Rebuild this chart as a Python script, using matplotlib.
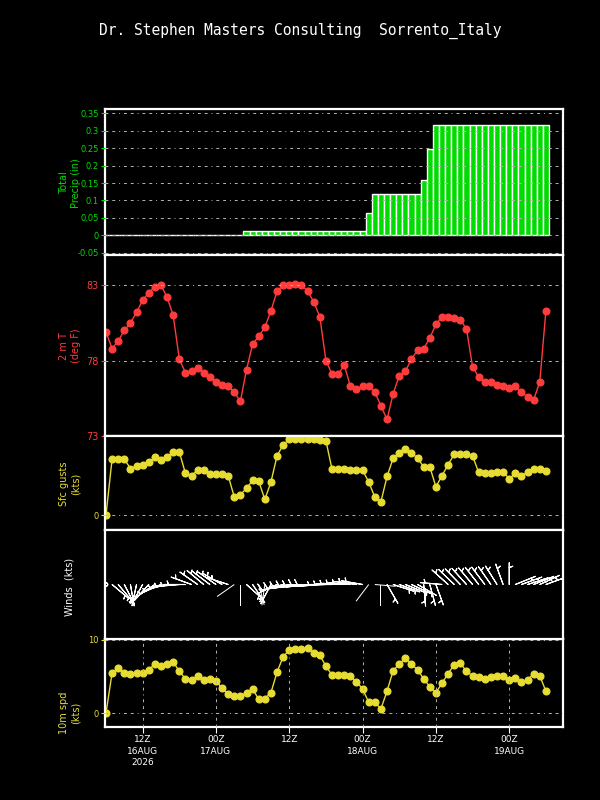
"""GrADS-style meteogram, Sorrento: precip, 2 m T, gusts, winds, 10 m speed."""
import numpy as np
import matplotlib
matplotlib.use("Agg")
import matplotlib.pyplot as plt

# hourly forecast steps, hours after 06Z 16AUG2026
hours = np.arange(73)

precip_in = [
    0, 0, 0, 0, 0, 0, 0, 0, 0, 0,
    0, 0, 0, 0, 0, 0, 0, 0, 0, 0,
    0, 0, 0, 0.012, 0.012, 0.012, 0.012, 0.012, 0.012, 0.012,
    0.012, 0.012, 0.012, 0.012, 0.012, 0.012, 0.012, 0.012, 0.012, 0.012,
    0.012, 0.012, 0.012, 0.064, 0.118, 0.118, 0.118, 0.118, 0.118, 0.118,
    0.118, 0.118, 0.159, 0.249, 0.316, 0.316, 0.316, 0.316, 0.316, 0.316,
    0.316, 0.316, 0.316, 0.316, 0.316, 0.316, 0.316, 0.316, 0.316, 0.316,
    0.316, 0.316, 0.316,
]
temp_f = [
    79.9, 78.8, 79.3, 80.0, 80.5, 81.2, 82.0, 82.5, 82.9, 83.0,
    82.2, 81.0, 78.1, 77.2, 77.3, 77.5, 77.2, 76.9, 76.6, 76.4,
    76.3, 75.9, 75.3, 77.4, 79.1, 79.6, 80.2, 81.3, 82.6, 83.0,
    83.0, 83.1, 83.0, 82.6, 81.9, 80.9, 78.0, 77.1, 77.1, 77.7,
    76.3, 76.1, 76.3, 76.3, 75.9, 75.0, 74.1, 75.8, 77.0, 77.3,
    78.1, 78.7, 78.8, 79.5, 80.4, 80.9, 80.9, 80.8, 80.7, 80.1,
    77.6, 76.9, 76.6, 76.6, 76.4, 76.3, 76.2, 76.3, 75.9, 75.6,
    75.4, 76.6, 81.3,
]
gust_kt = [
    0.0, 7.1, 7.1, 7.1, 5.9, 6.2, 6.4, 6.7, 7.3, 7.0,
    7.3, 8.0, 8.0, 5.3, 5.0, 5.7, 5.7, 5.2, 5.2, 5.2,
    5.0, 2.3, 2.6, 3.4, 4.4, 4.3, 2.0, 4.2, 7.5, 8.9,
    9.6, 9.6, 9.6, 9.6, 9.6, 9.5, 9.4, 5.8, 5.8, 5.8,
    5.7, 5.7, 5.7, 4.2, 2.3, 1.7, 4.9, 7.2, 7.9, 8.4,
    7.9, 7.2, 6.1, 6.1, 3.6, 5.0, 6.4, 7.7, 7.7, 7.7,
    7.5, 5.4, 5.3, 5.3, 5.5, 5.5, 4.6, 5.3, 5.0, 5.4,
    5.9, 5.9, 5.6,
]
wspd_kt = [
    0.0, 5.5, 6.1, 5.5, 5.3, 5.5, 5.5, 5.9, 6.7, 6.4,
    6.7, 7.0, 5.7, 4.7, 4.5, 5.0, 4.5, 4.7, 4.4, 3.4,
    2.6, 2.3, 2.3, 2.8, 3.3, 1.9, 2.0, 2.8, 5.6, 7.7,
    8.6, 8.8, 8.7, 8.9, 8.2, 7.9, 6.4, 5.2, 5.2, 5.2,
    5.0, 4.3, 3.3, 1.5, 1.5, 0.6, 3.0, 5.8, 6.7, 7.5,
    6.7, 5.9, 4.7, 3.6, 2.8, 4.1, 5.4, 6.6, 6.8, 5.7,
    5.1, 4.9, 4.7, 4.9, 5.1, 5.1, 4.5, 4.8, 4.2, 4.5,
    5.4, 5.1, 3.0,
]
# direction the wind blows from, degrees
wdir_deg = [
    0, 130, 140, 153, 170, 192, 209, 222, 236, 246,
    256, 263, 265, 270, 290, 305, 310, 307, 305, 300,
    288, 235, 180, 132, 146, 165, 188, 208, 245, 255,
    258, 260, 262, 263, 265, 265, 268, 270, 272, 273,
    275, 278, 280, 217, 95, 180, 150, 108, 110, 112,
    115, 120, 175, 165, 160, 275, 312, 314, 316, 318,
    320, 322, 323, 325, 328, 340, 0, 68, 70, 72,
    68, 65, 70,
]

xtick_hours = [6, 18, 30, 42, 54, 66]
xtick_labels = ["12Z\n16AUG\n2026", "00Z\n17AUG", "12Z", "00Z\n18AUG", "12Z", "00Z\n19AUG"]
precip_ticks = [-0.05, 0, 0.05, 0.1, 0.15, 0.2, 0.25, 0.3, 0.35]
precip_labels = ["-0.05", "0", "0.05", "0.1", "0.15", "0.2", "0.25", "0.3", "0.35"]
temp_ticks = [73, 78, 83]

GREEN = "#00dc00"
RED = "#ff3c3c"
YELLOW = "#e6dc32"
GRID = "#b4b4b4"
DASH = (0, (3, 4, 3, 4, 1, 4))

plt.rcParams["font.family"] = ["DejaVu Sans"]
fig = plt.figure(figsize=(6, 8), dpi=100, facecolor="black")
L, R = 105 / 600, 563 / 600


def panel(top_px, bottom_px):
    ax = fig.add_axes([L, 1 - bottom_px / 800, R - L, (bottom_px - top_px) / 800],
                      facecolor="black")
    ax.set_xlim(-0.16, 74.8)
    for s in ax.spines.values():
        s.set_color("white")
        s.set_linewidth(1.6)
    ax.tick_params(bottom=False, labelbottom=False, left=False, labelleft=False)
    return ax


def yaxis_style(ax, color, size):
    ax.tick_params(axis="y", left=True, labelleft=True, colors=color,
                   length=3, width=0.8, labelsize=size, pad=1.5)
    ax.grid(axis="y", color=GRID, linestyle=DASH, linewidth=0.7)
    ax.set_axisbelow(False)


def ylabel(text, y_px, color):
    fig.text(70 / 600, 1 - y_px / 800, text, rotation=90, ha="center", va="center",
             multialignment="center", color=color, fontsize=7, linespacing=1.15)


# ---- total precip ----
ax1 = panel(109, 255)
ax1.bar(hours, precip_in, width=1.0, color=GREEN, edgecolor="white", linewidth=1)
ax1.set_ylim(-0.0566, 0.3624)
ax1.set_yticks(precip_ticks)
ax1.set_yticklabels(precip_labels)
yaxis_style(ax1, GREEN, 6)
ylabel("Total\nPrecip (in)", 183, GREEN)

# ---- 2 m temperature ----
ax2 = panel(255, 436)
ax2.plot(hours, temp_f, color=RED, lw=1, marker="o", ms=4.8, mec=RED, mfc=RED)
ax2.set_ylim(73.0, 85.0)
ax2.set_yticks(temp_ticks)
ax2.set_yticklabels([str(t) for t in temp_ticks])
yaxis_style(ax2, RED, 7)
ylabel("2 m T\n(deg F)", 346, RED)

# ---- surface gusts ----
ax3 = panel(436, 530)
ax3.plot(hours, gust_kt, color=YELLOW, lw=1, marker="o", ms=4.8, mec=YELLOW, mfc=YELLOW)
ax3.set_ylim(-1.85, 10)
ax3.set_yticks([0])
ax3.set_yticklabels(["0"])
yaxis_style(ax3, YELLOW, 6)
ylabel("Sfc gusts\n(kts)", 484, YELLOW)

# ---- 10 m speed ----
ax5 = panel(639, 727)
ax5.plot(hours, wspd_kt, color=YELLOW, lw=1, marker="o", ms=4.8, mec=YELLOW, mfc=YELLOW)
ax5.set_ylim(-1.87, 10.1)
ax5.set_yticks([0, 10])
ax5.set_yticklabels(["0", "10"])
yaxis_style(ax5, YELLOW, 6)
ax5.grid(axis="x", color=GRID, linestyle=DASH, linewidth=0.7)
ax5.set_xticks(xtick_hours)
ax5.set_xticklabels(xtick_labels)
ax5.tick_params(axis="x", bottom=True, labelbottom=True, colors="white",
                length=4, width=0.8, labelsize=6.5, pad=2)
for lbl in ax5.get_xticklabels():
    lbl.set_linespacing(1.35)
ylabel("10m spd\n(kts)", 713, YELLOW)

# ---- wind barbs ----
ax4 = panel(530, 639)
ax4.set_ylim(0, 1)
spd = np.array(wspd_kt)
wd = np.radians(wdir_deg)
u = -spd * np.sin(wd)
v = -spd * np.cos(wd)
yb = np.full(len(hours), 0.5)
barbed = (spd >= 2.5) | (spd == 0)
# barb shaft comes out at about length**2/2 points
ax4.barbs(hours[barbed], yb[barbed], u[barbed], v[barbed], length=5.6, color="white",
          linewidth=0.8, pivot="tip", sizes=dict(emptybarb=0.08, spacing=0.15, height=0.32))
low = ~barbed   # light winds: bare shaft, no feather
ax4.quiver(hours[low], yb[low], np.sin(wd[low]), np.cos(wd[low]), angles="uv",
           pivot="tail", scale_units="inches", scale=1 / 0.21, units="dots", width=1.0,
           headwidth=0, headlength=0, headaxislength=0, color="white")
ylabel("Winds  (kts)", 587, "white")

fig.text(0.5, 1 - 31 / 800, "Dr. Stephen Masters Consulting  Sorrento_Italy",
         ha="center", va="center", color="white", fontsize=10.5,
         family=["DejaVu Sans Mono"])

fig.savefig("out.png", dpi=100, facecolor="black")
